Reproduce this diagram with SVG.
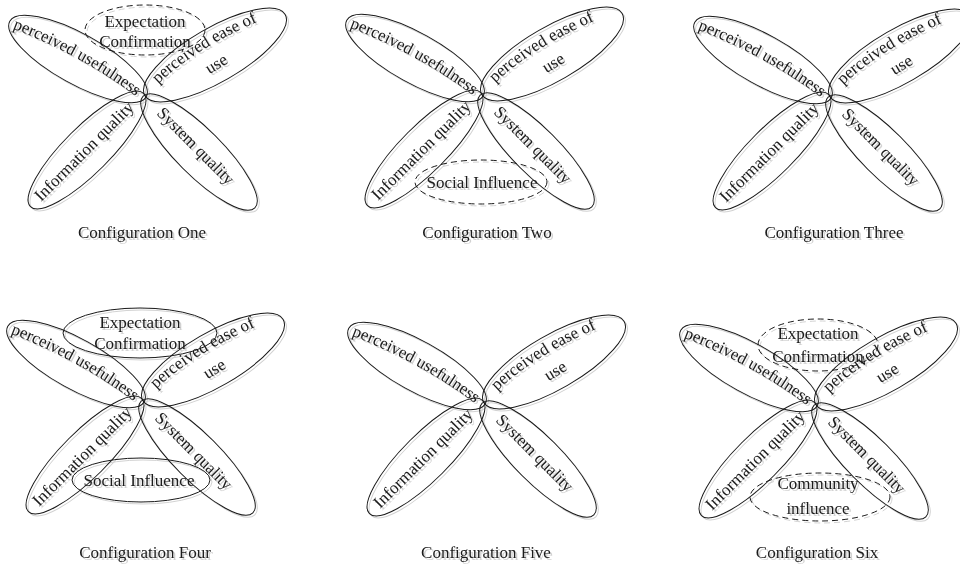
<svg xmlns="http://www.w3.org/2000/svg" xmlns:xlink="http://www.w3.org/1999/xlink" width="960" height="569" viewBox="0 0 960 569">
<style>
.e{fill:none;stroke:#1a1a1a;stroke-width:1}
.d{stroke-dasharray:6 4}
text{font-family:"Liberation Serif","Times New Roman",serif;font-size:17px;fill:#1a1a1a}
.c{text-anchor:middle}
</style>
<defs>
<filter id="sh" x="-10%" y="-10%" width="120%" height="120%">
<feOffset in="SourceAlpha" dx="1.5" dy="1.5" result="o"/>
<feComponentTransfer in="o" result="g"><feFuncA type="linear" slope="0.18"/></feComponentTransfer>
<feMerge><feMergeNode in="g"/><feMergeNode in="SourceGraphic"/></feMerge>
</filter>
<path id="p-pu" d="M-132.5,-67.5 Q-63,-41 -4,4"/>
<path id="p-pe" d="M13,-12 Q50,-48 121,-78"/>
<path id="p-iq" d="M-104,106 L-6,8"/>
<path id="p-sq" d="M11,18 L89,96"/>
</defs>
<g id="connectors"/>

<!-- Configuration One -->
<g id="config-one" transform="translate(145,96)" filter="url(#sh)">
<g id="c1-ec"><ellipse class="e d" cx="0" cy="-66" rx="60" ry="25"/><text class="c" x="0" y="-69">Expectation</text><text class="c" x="0" y="-49">Confirmation</text></g>
<g id="c1-pu"><ellipse class="e" transform="translate(-67,-37) rotate(29)" rx="78" ry="25"/><text><textPath href="#p-pu" xlink:href="#p-pu">perceived usefulness</textPath></text></g>
<g id="c1-pe"><ellipse class="e" transform="translate(70,-41) rotate(-30)" rx="81" ry="27"/><text><textPath href="#p-pe" xlink:href="#p-pe">perceived ease of</textPath></text><text class="c" transform="translate(74,-27.5) rotate(-30)">use</text></g>
<g id="c1-iq"><ellipse class="e" transform="translate(-58,54) rotate(-45)" rx="80" ry="23"/><text><textPath href="#p-iq" xlink:href="#p-iq">Information quality</textPath></text></g>
<g id="c1-sq"><ellipse class="e" transform="translate(54,56) rotate(45)" rx="79" ry="23"/><text><textPath href="#p-sq" xlink:href="#p-sq">System quality</textPath></text></g>
</g>
<text id="cap-one" class="c" x="142" y="238" filter="url(#sh)">Configuration One</text>

<!-- Configuration Two -->
<g id="config-two" transform="translate(482,95)" filter="url(#sh)">
<g id="c2-pu"><ellipse class="e" transform="translate(-67,-37) rotate(29)" rx="78" ry="25"/><text><textPath href="#p-pu" xlink:href="#p-pu">perceived usefulness</textPath></text></g>
<g id="c2-pe"><ellipse class="e" transform="translate(70,-41) rotate(-30)" rx="81" ry="27"/><text><textPath href="#p-pe" xlink:href="#p-pe">perceived ease of</textPath></text><text class="c" transform="translate(74,-27.5) rotate(-30)">use</text></g>
<g id="c2-iq"><ellipse class="e" transform="translate(-58,54) rotate(-45)" rx="80" ry="23"/><text><textPath href="#p-iq" xlink:href="#p-iq">Information quality</textPath></text></g>
<g id="c2-sq"><ellipse class="e" transform="translate(54,56) rotate(45)" rx="79" ry="23"/><text><textPath href="#p-sq" xlink:href="#p-sq">System quality</textPath></text></g>
<g id="c2-si"><ellipse class="e d" cx="-1" cy="87" rx="66" ry="22"/><text class="c" x="0" y="93">Social Influence</text></g>
</g>
<text id="cap-two" class="c" x="487" y="238" filter="url(#sh)">Configuration Two</text>

<!-- Configuration Three -->
<g id="config-three" transform="translate(830,97)" filter="url(#sh)">
<g id="c3-pu"><ellipse class="e" transform="translate(-67,-37) rotate(29)" rx="78" ry="25"/><text><textPath href="#p-pu" xlink:href="#p-pu">perceived usefulness</textPath></text></g>
<g id="c3-pe"><ellipse class="e" transform="translate(70,-41) rotate(-30)" rx="81" ry="27"/><text><textPath href="#p-pe" xlink:href="#p-pe">perceived ease of</textPath></text><text class="c" transform="translate(74,-27.5) rotate(-30)">use</text></g>
<g id="c3-iq"><ellipse class="e" transform="translate(-58,54) rotate(-45)" rx="80" ry="23"/><text><textPath href="#p-iq" xlink:href="#p-iq">Information quality</textPath></text></g>
<g id="c3-sq"><ellipse class="e" transform="translate(54,56) rotate(45)" rx="79" ry="23"/><text><textPath href="#p-sq" xlink:href="#p-sq">System quality</textPath></text></g>
</g>
<text id="cap-three" class="c" x="834" y="238" filter="url(#sh)">Configuration Three</text>

<!-- Configuration Four -->
<g id="config-four" transform="translate(143,401)" filter="url(#sh)">
<g id="c4-ec"><ellipse class="e" cx="-3" cy="-68" rx="77" ry="25"/><text class="c" x="-3" y="-73">Expectation</text><text class="c" x="-3" y="-52">Confirmation</text></g>
<g id="c4-pu"><ellipse class="e" transform="translate(-67,-37) rotate(29)" rx="78" ry="25"/><text><textPath href="#p-pu" xlink:href="#p-pu">perceived usefulness</textPath></text></g>
<g id="c4-pe"><ellipse class="e" transform="translate(70,-41) rotate(-30)" rx="81" ry="27"/><text><textPath href="#p-pe" xlink:href="#p-pe">perceived ease of</textPath></text><text class="c" transform="translate(74,-27.5) rotate(-30)">use</text></g>
<g id="c4-iq"><ellipse class="e" transform="translate(-58,54) rotate(-45)" rx="80" ry="23"/><text><textPath href="#p-iq" xlink:href="#p-iq">Information quality</textPath></text></g>
<g id="c4-sq"><ellipse class="e" transform="translate(54,56) rotate(45)" rx="79" ry="23"/><text><textPath href="#p-sq" xlink:href="#p-sq">System quality</textPath></text></g>
<g id="c4-si"><ellipse class="e" cx="-2" cy="79" rx="69" ry="22"/><text class="c" x="-4" y="85">Social Influence</text></g>
</g>
<text id="cap-four" class="c" x="145" y="558" filter="url(#sh)">Configuration Four</text>

<!-- Configuration Five -->
<g id="config-five" transform="translate(484,403)" filter="url(#sh)">
<g id="c5-pu"><ellipse class="e" transform="translate(-67,-37) rotate(29)" rx="78" ry="25"/><text><textPath href="#p-pu" xlink:href="#p-pu">perceived usefulness</textPath></text></g>
<g id="c5-pe"><ellipse class="e" transform="translate(70,-41) rotate(-30)" rx="81" ry="27"/><text><textPath href="#p-pe" xlink:href="#p-pe">perceived ease of</textPath></text><text class="c" transform="translate(74,-27.5) rotate(-30)">use</text></g>
<g id="c5-iq"><ellipse class="e" transform="translate(-58,54) rotate(-45)" rx="80" ry="23"/><text><textPath href="#p-iq" xlink:href="#p-iq">Information quality</textPath></text></g>
<g id="c5-sq"><ellipse class="e" transform="translate(54,56) rotate(45)" rx="79" ry="23"/><text><textPath href="#p-sq" xlink:href="#p-sq">System quality</textPath></text></g>
</g>
<text id="cap-five" class="c" x="486" y="558" filter="url(#sh)">Configuration Five</text>

<!-- Configuration Six -->
<g id="config-six" transform="translate(816,405)" filter="url(#sh)">
<g id="c6-ec"><ellipse class="e d" cx="2" cy="-60" rx="60" ry="26"/><text class="c" x="2" y="-66">Expectation</text><text class="c" x="2" y="-43">Confirmation</text></g>
<g id="c6-pu"><ellipse class="e" transform="translate(-67,-37) rotate(29)" rx="78" ry="25"/><text><textPath href="#p-pu" xlink:href="#p-pu">perceived usefulness</textPath></text></g>
<g id="c6-pe"><ellipse class="e" transform="translate(70,-41) rotate(-30)" rx="81" ry="27"/><text><textPath href="#p-pe" xlink:href="#p-pe">perceived ease of</textPath></text><text class="c" transform="translate(74,-27.5) rotate(-30)">use</text></g>
<g id="c6-iq"><ellipse class="e" transform="translate(-58,54) rotate(-45)" rx="80" ry="23"/><text><textPath href="#p-iq" xlink:href="#p-iq">Information quality</textPath></text></g>
<g id="c6-sq"><ellipse class="e" transform="translate(54,56) rotate(45)" rx="79" ry="23"/><text><textPath href="#p-sq" xlink:href="#p-sq">System quality</textPath></text></g>
<g id="c6-ci"><ellipse class="e d" cx="4" cy="92" rx="70" ry="24"/><text class="c" x="2" y="84">Community</text><text class="c" x="2" y="109">influence</text></g>
</g>
<text id="cap-six" class="c" x="817" y="558" filter="url(#sh)">Configuration Six</text>
</svg>
